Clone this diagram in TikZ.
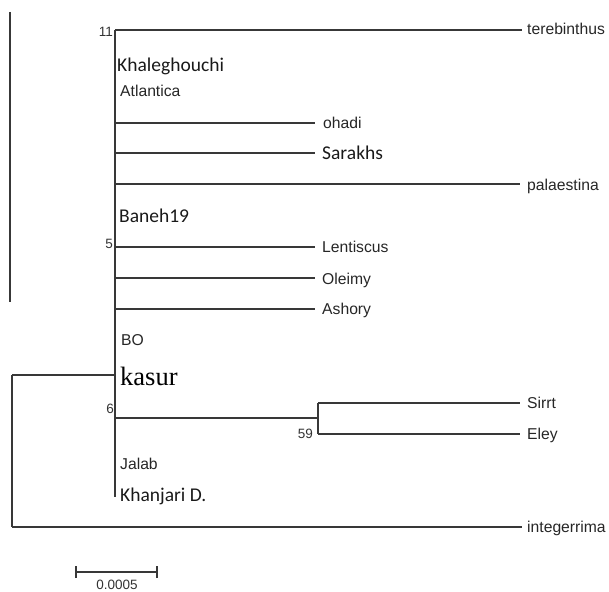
\documentclass[tikz,border=0pt]{standalone}
\usepackage{fontspec}
\setmainfont{Liberation Sans}
\newfontfamily\calfont{Carlito}
\newfontfamily\serfont{Liberation Serif}
\begin{document}
\begin{tikzpicture}[x=1pt,y=-1pt,
  br/.style={draw=black!78, line width=1.3pt},
  lab/.style={anchor=base west, inner sep=0pt, text=black!85, font=\fontsize{15.7}{18}\selectfont},
  clab/.style={anchor=base west, inner sep=0pt, text=black!90, font=\calfont\fontsize{19.5}{22}\selectfont},
  slab/.style={anchor=base west, inner sep=0pt, text=black, font=\serfont\fontsize{26.5}{30}\selectfont},
  boot/.style={anchor=base east, inner sep=0pt, text=black!80, font=\fontsize{13.5}{16}\selectfont}]
\useasboundingbox (0,0) rectangle (609,591);
% stray vertical line on the left
\draw[br] (10,12) -- (10,302);
% internal nodes
\coordinate (root) at (12,375);
\coordinate (rootlow) at (12,527);
\coordinate (ctop) at (115,30);
\coordinate (cbot) at (115,497);
\coordinate (cmid) at (115,375);
\coordinate (c59) at (318,418);
\coordinate (c59top) at (318,403);
\coordinate (c59bot) at (318,434);
% tips
\coordinate (tter) at (522,30);
\coordinate (toha) at (315,123);
\coordinate (tsar) at (315,153);
\coordinate (tpal) at (520,184);
\coordinate (tlen) at (315,247);
\coordinate (tole) at (315,278);
\coordinate (tash) at (315,309);
\coordinate (tsir) at (520,403);
\coordinate (tele) at (520,434);
\coordinate (tint) at (522,527);
% labels
\node[lab] (Lter) at (527,35) {terebinthus};
\node[lab] (Loha) at (323,128) {ohadi};
\node[clab] (Lsar) at (322,159) {Sarakhs};
\node[lab] (Lpal) at (527,190) {palaestina};
\node[lab] (Llen) at (322,252) {Lentiscus};
\node[lab] (Lole) at (322,284) {Oleimy};
\node[lab] (Lash) at (322,314) {Ashory};
\node[lab] (Lsir) at (527,408) {Sirrt};
\node[lab] (Lele) at (527,439) {Eley};
\node[lab] (Lint) at (527,532) {integerrima};
\node[clab] (Lkha) at (117,72) {Khaleghouchi};
\node[lab] (Latl) at (120,96) {Atlantica};
\node[clab] (Lban) at (119,222) {Baneh19};
\node[lab] (Lbo) at (121,345) {BO};
\node[slab] (Lkas) at (120,385) {kasur};
\node[lab] (Ljal) at (120,469) {Jalab};
\node[clab] (Lkhj) at (120,501) {Khanjari D.};
% bootstrap values
\node[boot] (b11) at (113,37) {11};
\node[boot] (b5) at (113,248) {5};
\node[boot] (b6) at (114,413) {6};
\node[boot] (b59) at (313,438) {59};
% branches
\draw[br] (root) -- (rootlow);
\draw[br] (root) -- (cmid);
\draw[br] (rootlow) -- (tint);
\draw[br] (ctop) -- (cbot);
\draw[br] (ctop) -- (tter);
\draw[br] (ctop |- toha) -- (toha);
\draw[br] (ctop |- tsar) -- (tsar);
\draw[br] (ctop |- tpal) -- (tpal);
\draw[br] (ctop |- tlen) -- (tlen);
\draw[br] (ctop |- tole) -- (tole);
\draw[br] (ctop |- tash) -- (tash);
\draw[br] (ctop |- c59) -- (c59);
\draw[br] (c59top) -- (c59bot);
\draw[br] (c59top) -- (tsir);
\draw[br] (c59bot) -- (tele);
% scale bar
\coordinate (sbl) at (76,572);
\coordinate (sbr) at (157,572);
\draw[br] (sbl) -- (sbr);
\draw[br] ([yshift=-6pt]sbl) -- ([yshift=6pt]sbl);
\draw[br] ([yshift=-6pt]sbr) -- ([yshift=6pt]sbr);
\node[anchor=base, inner sep=0pt, text=black!80, font=\fontsize{13.5}{16}\selectfont] (sblab) at (117,589) {0.0005};
\end{tikzpicture}
\end{document}
